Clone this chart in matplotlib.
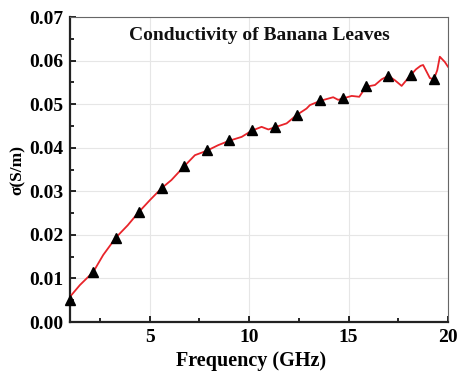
import matplotlib
matplotlib.use("Agg")
import matplotlib.pyplot as plt
from matplotlib.ticker import MultipleLocator

# red curve
freq = [1.0, 1.5, 2.17, 2.67, 3.31, 3.9, 4.43, 5.02, 5.6, 6.1, 6.73, 7.28, 7.87,
        8.45, 9.0, 9.63, 10.13, 10.63, 10.97, 11.3, 11.89, 12.39, 12.89, 13.06,
        13.6, 14.23, 14.48, 14.7, 15.16, 15.54, 15.88, 16.33, 16.66, 17.0, 17.33,
        17.67, 18.09, 18.39, 18.62, 18.75, 18.92, 19.09, 19.29, 19.46, 19.59,
        19.84, 20.0]
sigma = [0.0058, 0.0085, 0.0115, 0.0154, 0.0194, 0.0222, 0.0251, 0.0280, 0.0307,
         0.0326, 0.0357, 0.0383, 0.0393, 0.0406, 0.0416, 0.0425, 0.0439, 0.0448,
         0.0442, 0.0447, 0.0456, 0.0475, 0.0490, 0.0498, 0.0508, 0.0516, 0.0510,
         0.0513, 0.0519, 0.0517, 0.0540, 0.0544, 0.0557, 0.0565, 0.0555, 0.0542,
         0.0565, 0.0580, 0.0588, 0.0590, 0.0575, 0.0560, 0.0557, 0.0578, 0.0609,
         0.0597, 0.0586]

# triangle markers
mark_f = [1.0, 2.15, 3.3, 4.45, 5.6, 6.72, 7.87, 9.0, 10.15, 11.3, 12.42, 13.57,
          14.72, 15.87, 17.0, 18.12, 19.28]
mark_s = [0.0050, 0.0115, 0.0194, 0.0252, 0.0307, 0.0357, 0.0394, 0.0417, 0.0440,
          0.0447, 0.0476, 0.0510, 0.0514, 0.0541, 0.0564, 0.0567, 0.0558]

plt.rcParams["font.family"] = ["Liberation Serif", "DejaVu Serif"]
plt.rcParams["font.weight"] = "bold"

fig = plt.figure(figsize=(4.59, 3.71), dpi=100)
ax = fig.add_axes([0.1525, 0.132, 0.8235, 0.822])

ax.plot(freq, sigma, color="#e8242a", linewidth=1.3, zorder=3)
ax.plot(mark_f, mark_s, linestyle="none", marker="^", markersize=6.5,
        color="black", zorder=4, clip_on=False)

ax.set_xlim(1, 20)
ax.set_ylim(0, 0.07)
ax.set_xticks([5, 10, 15, 20])
ax.xaxis.set_minor_locator(MultipleLocator(2.5))
ax.yaxis.set_major_locator(MultipleLocator(0.01))
ax.yaxis.set_minor_locator(MultipleLocator(0.005))
ax.yaxis.set_major_formatter(plt.FormatStrFormatter("%.2f"))

ax.grid(True, which="major", color="#e6e6e6", linewidth=0.8, zorder=0)
ax.set_axisbelow(True)

ax.tick_params(which="both", direction="in", top=False, right=False,
               labelsize=14, width=1.2, colors="black")
ax.tick_params(which="major", length=4, pad=5)
ax.tick_params(which="minor", length=3)
for lab in ax.get_xticklabels() + ax.get_yticklabels():
    lab.set_fontweight("bold")

ax.spines["left"].set_linewidth(1.6)
ax.spines["bottom"].set_linewidth(1.6)
ax.spines["left"].set_color("#222222")
ax.spines["bottom"].set_color("#222222")
ax.spines["top"].set_color("#666666")
ax.spines["right"].set_color("#666666")

ax.set_xlabel("Frequency (GHz)", fontsize=14.5, fontweight="bold", labelpad=3)
ax.xaxis.set_label_coords(0.48, -0.095)
ax.set_ylabel("σ(S/m)", fontsize=12.5, fontweight="bold", labelpad=2)
ax.text(0.5, 0.94, "Conductivity of Banana Leaves", transform=ax.transAxes,
        ha="center", va="center", fontsize=14, fontweight="bold", color="#111111")

fig.savefig("out.png", dpi=100, facecolor="white")
